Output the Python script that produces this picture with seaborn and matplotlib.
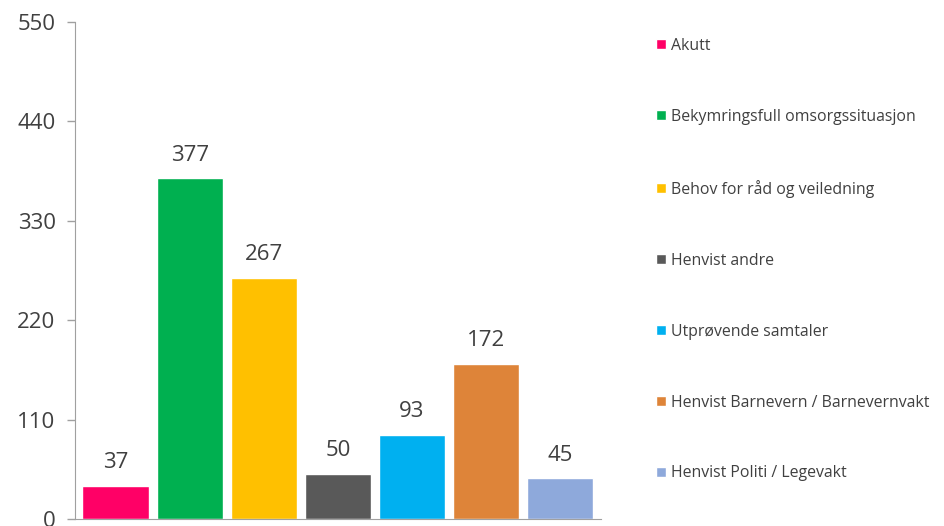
import pandas as pd
import matplotlib
matplotlib.use('Agg')
import matplotlib.pyplot as plt
import seaborn as sns

# categories and counts
categories = ['Akutt', 'Bekymringsfull omsorgssituasjon', 'Behov for råd og veiledning',
              'Henvist andre', 'Utprøvende samtaler', 'Henvist Barnevern / Barnevernvakt',
              'Henvist Politi / Legevakt']
counts = [37, 377, 267, 50, 93, 172, 45]
colors = ['#FF0066', '#00B050', '#FFC000', '#595959', '#00B0F0', '#DE8439', '#8EA9DB']
yticks = [0, 110, 220, 330, 440, 550]

df = pd.DataFrame({'Kategori': categories, 'Antall': counts})

sns.set_style('white')
plt.rcParams['font.family'] = ['Open Sans', 'DejaVu Sans']

fig = plt.figure(figsize=(9.44, 5.26), dpi=100)
ax = fig.add_axes([0.0795, 0.0133, 0.557, 0.945])

sns.barplot(data=df, x='Kategori', y='Antall', hue='Kategori', palette=colors,
            order=categories, hue_order=categories, width=0.9, dodge=False,
            legend=True, ax=ax, saturation=1)

# value labels above bars
for cont in ax.containers:
    ax.bar_label(cont, padding=9, fontsize=16, color='#404040')

ax.set_ylim(0, 550)
ax.set_xlim(-0.55, 6.55)
ax.set_yticks(yticks)
ax.set_xticks([])
ax.set_xlabel('')
ax.set_ylabel('')
ax.tick_params(axis='y', labelsize=16, labelcolor='#404040', color='#a0a0a0',
               length=6, width=1, left=True, direction='out', pad=8)
for side in ['top', 'right']:
    ax.spines[side].set_visible(False)
for side in ['left', 'bottom']:
    ax.spines[side].set_color('#a0a0a0')

handles, labels = ax.get_legend_handles_labels()
ax.legend(handles, labels, loc='upper left', bbox_to_anchor=(1.105, 0.968),
          bbox_transform=ax.transAxes, frameon=False, fontsize=11.4,
          handlelength=0.63, handleheight=0.63, handletextpad=0.3,
          labelspacing=3.47, borderaxespad=0, borderpad=0, labelcolor='#404040')

fig.savefig('out.png', dpi=100)
